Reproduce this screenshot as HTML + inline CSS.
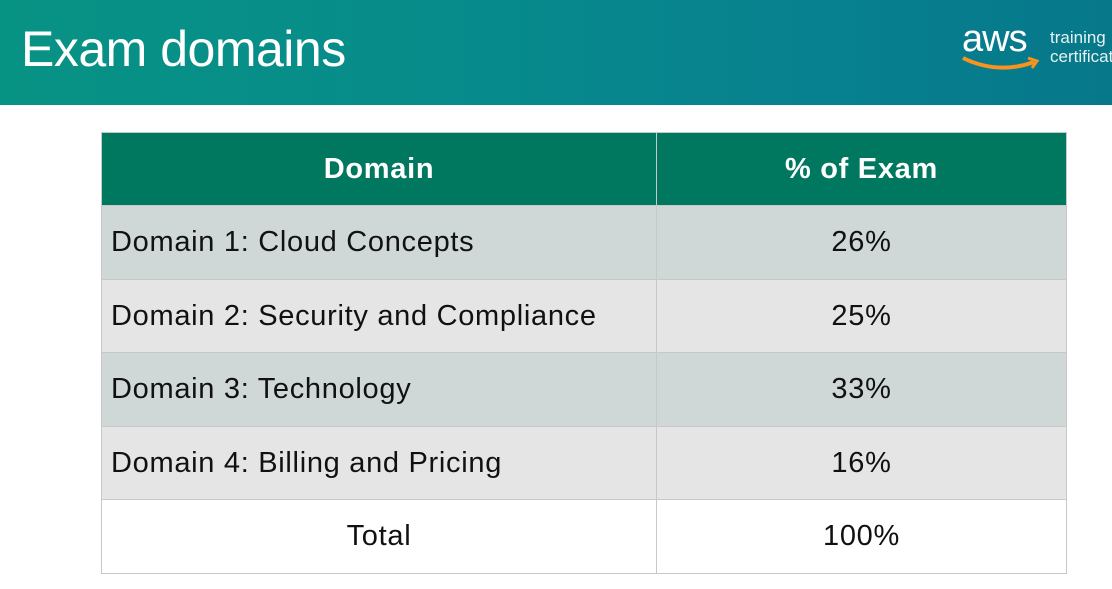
<!DOCTYPE html>
<html><head><meta charset="utf-8"><style>
html,body{margin:0;padding:0;width:1112px;height:589px;overflow:hidden;background:#fff;font-family:"Liberation Sans","DejaVu Sans",sans-serif;}
.hdr{position:absolute;left:0;top:0;width:1112px;height:105px;background:linear-gradient(90deg,#079384 0%,#078a8c 45%,#07808f 75%,#06788a 100%);}
.hdr h1{position:absolute;left:21px;top:20px;margin:0;font-weight:300;font-size:50px;color:#fff;letter-spacing:-0.5px;}
.aws{position:absolute;left:962px;top:18px;color:#fff;font-size:38px;letter-spacing:-1px;}
.tc{position:absolute;left:1050px;top:28px;color:#e6f3f3;font-size:17px;line-height:19px;}
table{position:absolute;left:101px;top:132px;border-collapse:collapse;width:966px;}
td,th{border:1px solid #c8c8c8;height:72px;font-size:29px;color:#111;padding:0;letter-spacing:0.7px;}
tr.t td{height:73px;}
th{background:#00775f;color:#fff;font-weight:bold;}
td.l{padding-left:9px;text-align:left;}
td.r{text-align:center;}
tr.a td{background:#cfd8d7;}
tr.b td{background:#e5e5e5;}
tr.c td{background:#fff;}
</style></head><body>
<div class="hdr"><h1>Exam domains</h1>
<div class="aws">aws</div>
<svg style="position:absolute;left:960px;top:55px" width="82" height="20"><path d="M3 3 Q38 20 74 7" stroke="#f7931e" stroke-width="4" fill="none"/><path d="M68 3 L77 6 L72 13" stroke="#f7931e" stroke-width="3" fill="none"/></svg>
<div class="tc">training<br>certification</div>
</div>
<table>
<tr><th style="width:554px">Domain</th><th>% of Exam</th></tr>
<tr class="a t"><td class="l">Domain 1: Cloud Concepts</td><td class="r">26%</td></tr>
<tr class="b"><td class="l">Domain 2: Security and Compliance</td><td class="r">25%</td></tr>
<tr class="a t"><td class="l">Domain 3: Technology</td><td class="r">33%</td></tr>
<tr class="b"><td class="l">Domain 4: Billing and Pricing</td><td class="r">16%</td></tr>
<tr class="c t"><td class="r">Total</td><td class="r">100%</td></tr>
</table>
</body></html>
